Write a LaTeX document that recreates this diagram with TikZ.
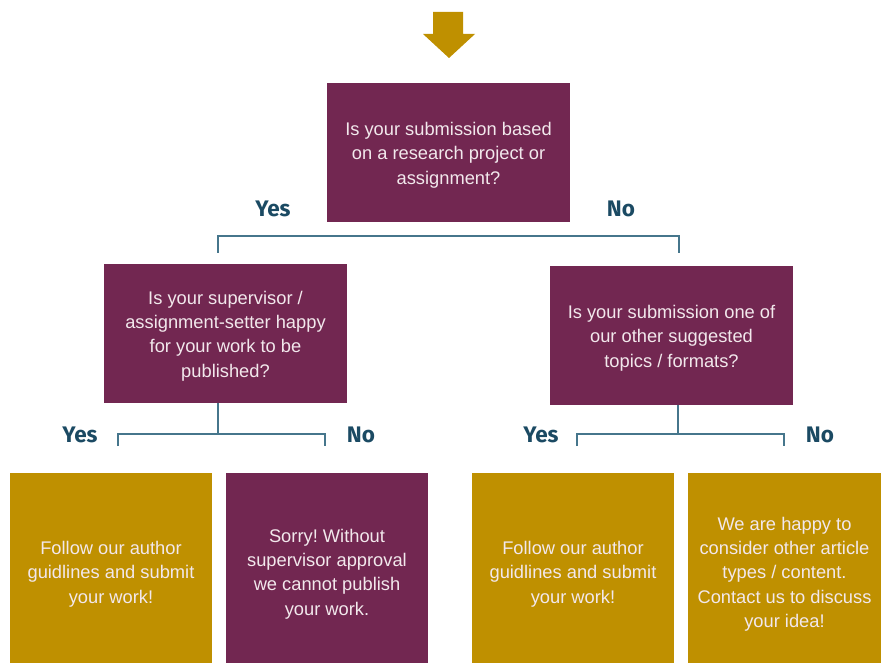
\documentclass[tikz,border=0pt]{standalone}
\usepackage{fontspec}
\setmainfont{Liberation Sans}
\newfontfamily\boxfont{Liberation Sans}
\newfontfamily\lblfont{Fira Sans}
\frenchspacing
\definecolor{plum}{HTML}{722751}
\definecolor{mustard}{HTML}{BF9000}
\definecolor{linec}{HTML}{46768C}
\definecolor{lblc}{HTML}{1B4A63}
\definecolor{txtc}{HTML}{F2E8EC}
\tikzset{
  qbox/.style={rectangle, fill=plum, inner sep=0pt},
  goldbox/.style={rectangle, fill=mustard, inner sep=0pt},
  btxt/.style={text=txtc, align=center, inner sep=0pt, yshift=-2.5pt,
    font=\boxfont\frenchspacing\fontsize{18.3}{24.3}\selectfont},
  lbl/.style={text=lblc, font=\lblfont\bfseries\fontsize{22.5}{24}\selectfont, inner sep=0pt},
  conn/.style={draw=linec, line width=1.2pt},
}
\begin{document}
\begin{tikzpicture}[x=1pt,y=-1pt]
\useasboundingbox (0,0) rectangle (881,663);
% arrow
\fill[mustard] (433,12) -- (463,12) -- (463,34) -- (475,34) -- (449,58) -- (423,34) -- (433,34) -- cycle;
% boxes
\node[qbox, minimum width=243, minimum height=139] (q1) at (448.5,152.5) {};
\node[qbox, minimum width=243, minimum height=139] (q2) at (225.5,333.5) {};
\node[qbox, minimum width=243, minimum height=139] (q3) at (671.5,335.5) {};
\node[goldbox, minimum width=202, minimum height=190] (a1) at (111,568) {};
\node[qbox, minimum width=202, minimum height=190] (a2) at (327,568) {};
\node[goldbox, minimum width=202, minimum height=190] (a3) at (573,568) {};
\node[goldbox, minimum width=193, minimum height=190] (a4) at (784.5,568) {};
% texts
\node[btxt] (t1) at (q1.center) {Is your submission based\\on a research project or\\assignment?};
\node[btxt] (t2) at (q2.center) {Is your supervisor /\\assignment-setter happy\\for your work to be\\published?};
\node[btxt] (t3) at (q3.center) {Is your submission one of\\our other suggested\\topics / formats?};
\node[btxt, yshift=-3.5pt] (t4) at (a1.center) {Follow our author\\guidlines and submit\\your work!};
\node[btxt, yshift=-3.5pt] (t5) at (a2.center) {Sorry! Without\\supervisor approval\\we cannot publish\\your work.};
\node[btxt, yshift=-3.5pt] (t6) at (a3.center) {Follow our author\\guidlines and submit\\your work!};
\node[btxt, yshift=-3.5pt] (t7) at (a4.center) {We are happy to\\consider other article\\types / content.\\Contact us to discuss\\your idea!};
% connectors
\coordinate (b1l) at (218,236); \coordinate (b1r) at (679,236);
\draw[conn] (218,253) -- (b1l) -- (b1r) -- (679,253);
\coordinate (b2) at (218,434);
\draw[conn] (q2.south -| b2) -- (b2);
\draw[conn] (118,446) -- (118,434) -- (325,434) -- (325,446);
\coordinate (b3) at (678,434);
\draw[conn] (q3.south -| b3) -- (b3);
\draw[conn] (577,446) -- (577,434) -- (784,434) -- (784,446);
% labels
\node[lbl] (y1) at (273,209) {Yes};
\node[lbl] (n1) at (621,209) {No};
\node[lbl] (y2) at (80,435) {Yes};
\node[lbl] (n2) at (361,435) {No};
\node[lbl] (y3) at (541,435) {Yes};
\node[lbl] (n3) at (820,435) {No};
\end{tikzpicture}
\end{document}
